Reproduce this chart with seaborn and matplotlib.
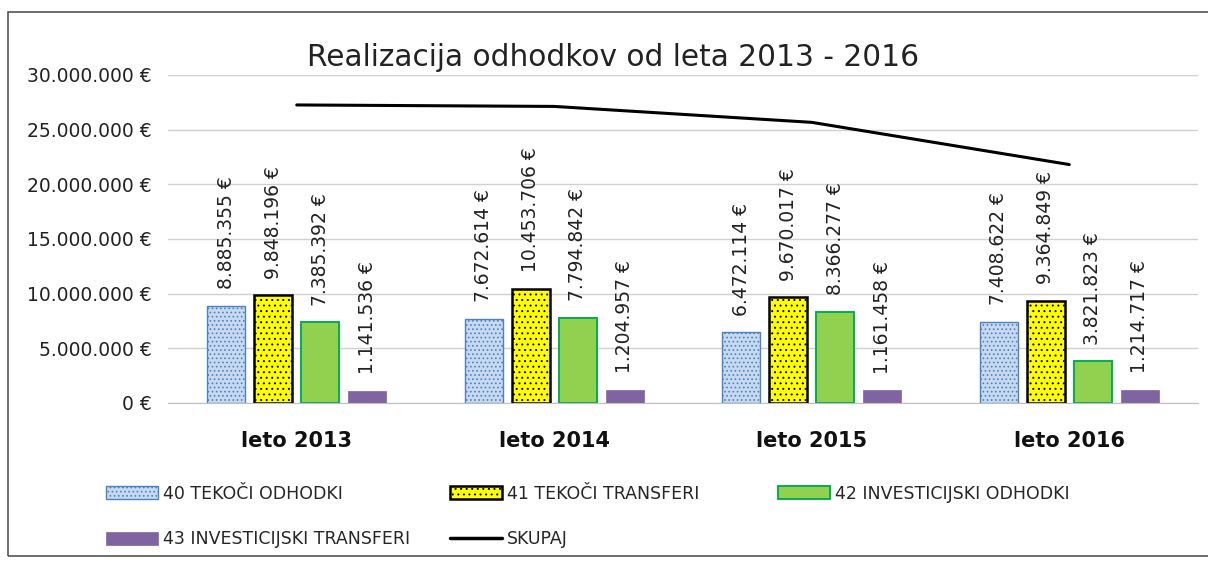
import matplotlib.pyplot as plt
import matplotlib.patches as mpatches
from matplotlib.lines import Line2D
import pandas as pd
import numpy as np
import seaborn as sns

# Data
years = ["leto 2013", "leto 2014", "leto 2015", "leto 2016"]
series = ["40 TEKOČI ODHODKI", "41 TEKOČI TRANSFERI",
          "42 INVESTICIJSKI ODHODKI", "43 INVESTICIJSKI TRANSFERI"]
tekoci_odhodki = [8885355, 7672614, 6472114, 7408622]
tekoci_transferi = [9848196, 10453706, 9670017, 9364849]
inv_odhodki = [7385392, 7794842, 8366277, 3821823]
inv_transferi = [1141536, 1204957, 1161458, 1214717]
total_label = "SKUPAJ"

values = [tekoci_odhodki, tekoci_transferi, inv_odhodki, inv_transferi]
skupaj = [sum(v) for v in zip(*values)]

df = pd.DataFrame({
    "leto": [y for s in series for y in years],
    "serija": [s for s in series for y in years],
    "znesek": [v for vals in values for v in vals],
})

faces = ["#C6D9F1", "#FFFF00", "#92D050", "#8064A2"]
edges = ["#4F81BD", "#000000", "#00B050", "#8064A2"]
hatches = ["....", "...", "", ""]
lws = [1.0, 1.8, 1.4, 0.5]

sns.set_style("white")
plt.rcParams["font.family"] = ["DejaVu Sans"]
plt.rcParams["hatch.linewidth"] = 0.7

fig = plt.figure(figsize=(12.08, 5.62), dpi=100)
ax = fig.add_axes([168 / 1208, 1 - 403 / 562, 1030 / 1208, 328 / 562])

sns.barplot(data=df, x="leto", y="znesek", hue="serija", order=years,
            hue_order=series, width=0.73, gap=0.19, ax=ax, legend=False,
            palette=faces, saturation=1)

# style bars per series
bars = [p for p in ax.patches if isinstance(p, mpatches.Rectangle)]
for i, p in enumerate(bars[:16]):
    s = i // 4
    p.set_facecolor(faces[s])
    p.set_edgecolor(edges[s])
    p.set_hatch(hatches[s])
    p.set_linewidth(lws[s])

# value labels
for i, p in enumerate(bars[:16]):
    s, k = i // 4, i % 4
    txt = f"{values[s][k]:,}".replace(",", ".") + " €"
    ax.annotate(txt, (p.get_x() + p.get_width() / 2, p.get_height()),
                xytext=(0, 12), textcoords="offset points", rotation=90,
                ha="center", va="bottom", fontsize=13.5, color="#222222")

# total line
sns.lineplot(x=np.arange(len(years)), y=skupaj, color="black", linewidth=2.2,
             ax=ax, legend=False)

ax.set_ylim(0, 30000000)
ax.set_xlim(-0.5, len(years) - 0.5)
ax.set_yticks(np.arange(0, 30000001, 5000000))
ax.set_yticklabels([f"{int(t):,}".replace(",", ".") + " €" if t else "0 €"
                    for t in ax.get_yticks()], fontsize=13.5, color="#222222")
ax.set_xticks(range(len(years)))
ax.set_xticklabels(years, fontsize=15, fontweight="bold", color="#111111")
ax.tick_params(axis="y", length=0, pad=12)
ax.tick_params(axis="x", length=0, pad=20)
ax.set_xlabel("")
ax.set_ylabel("")
ax.grid(axis="y", color="#D0D0D0", linewidth=1)
ax.set_axisbelow(True)
for side in ["left", "right", "top"]:
    ax.spines[side].set_visible(False)
ax.spines["bottom"].set_color("#BFBFBF")

fig.text(613 / 1208, 1 - 58 / 562, "Realizacija odhodkov od leta 2013 - 2016",
         ha="center", va="center", fontsize=21.3, color="#222222")

# legend, laid out in three columns like the original
handles = [mpatches.Patch(facecolor=faces[s], edgecolor=edges[s],
                          hatch=hatches[s], linewidth=lws[s], label=series[s])
           for s in range(4)]
handles.append(Line2D([0], [0], color="black", linewidth=2.5, label=total_label))
columns = [([0, 3], 90), ([1, 4], 434), ([2], 762)]
for idx, xpos in columns:
    fig.legend([handles[i] for i in idx], [handles[i].get_label() for i in idx],
               loc="upper left", bbox_to_anchor=(xpos / 1208, 1 - 469 / 562),
               frameon=False, fontsize=12.5, handlelength=3.0, handleheight=0.8,
               handletextpad=0.3, labelspacing=1.6)

# outer chart frame
fig.patches.append(mpatches.Rectangle((8 / 1208, 6 / 562), 1.0, 1 - 18 / 562,
                                      transform=fig.transFigure, fill=False,
                                      edgecolor="#555555", linewidth=1.2))

fig.savefig("out.png", dpi=100)
